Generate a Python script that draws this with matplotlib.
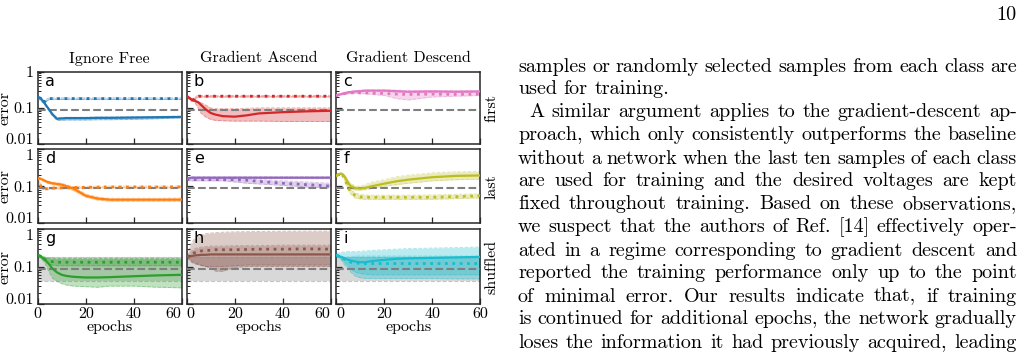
"""Error vs. epochs grid (3x3) next to the justified body text of the page."""

import matplotlib
matplotlib.use("Agg")
import matplotlib.pyplot as plt
from matplotlib.font_manager import FontProperties

W, H = 1028, 359

# --- Data ------------------------------------------------------------------
epochs = [0, 1, 2, 3, 4, 5, 6, 8, 10, 12, 15, 20, 25, 30, 40, 50, 60]

# a: Ignore Free / first
a_solid = [.20, .19, .16, .13, .105, .085, .068, .050, .051, .052, .052, .052, .053, .053, .054, .055, .056]
a_solid_lo = [.19, .18, .15, .12, .095, .076, .061, .045, .045, .046, .046, .046, .047, .047, .048, .050, .053]
a_solid_hi = [.21, .20, .17, .14, .110, .090, .072, .053, .054, .055, .055, .055, .056, .056, .057, .058, .059]
a_dot = [.20, .17, .15, .15, .17, .18, .18, .18, .18, .18, .18, .18, .18, .18, .18, .18, .18]
a_dot_lo = [.19, .16, .14, .14, .16, .17, .17, .17, .17, .17, .17, .17, .17, .17, .17, .17, .17]
a_dot_hi = [.21, .18, .16, .16, .18, .19, .19, .19, .19, .19, .19, .19, .19, .19, .19, .19, .19]

# b: Gradient Ascend / first
b_solid = [.21, .19, .17, .16, .15, .14, .12, .09, .072, .065, .059, .057, .062, .070, .076, .080, .083]
b_solid_lo = [.20, .18, .16, .15, .12, .09, .07, .055, .048, .045, .044, .043, .043, .043, .042, .042, .042]
b_solid_hi = [.22, .20, .18, .17, .16, .15, .14, .12, .10, .095, .095, .095, .097, .10, .10, .10, .10]
b_dot = [.21, .18, .16, .17, .20, .21, .21, .21, .21, .21, .21, .21, .21, .21, .21, .21, .21]
b_dot_lo = [.20, .17, .15, .16, .19, .20, .20, .20, .20, .20, .20, .20, .20, .20, .20, .20, .20]
b_dot_hi = [.22, .19, .17, .18, .21, .22, .22, .22, .22, .22, .22, .22, .22, .22, .22, .22, .22]

# c: Gradient Descend / first
c_solid = [.22, .23, .24, .25, .26, .27, .275, .285, .29, .30, .30, .30, .29, .28, .285, .28, .285]
c_solid_lo = [.21, .22, .23, .24, .25, .26, .265, .275, .28, .285, .285, .285, .275, .27, .27, .27, .27]
c_solid_hi = [.23, .24, .25, .26, .27, .28, .285, .30, .305, .315, .315, .315, .31, .30, .30, .30, .30]
c_dot = [.22, .23, .24, .245, .25, .255, .26, .26, .26, .26, .255, .25, .24, .235, .24, .235, .24]
c_dot_lo = [.21, .22, .23, .235, .24, .245, .25, .25, .25, .245, .235, .22, .18, .165, .20, .21, .22]
c_dot_hi = [.23, .24, .25, .255, .26, .265, .27, .275, .28, .28, .28, .28, .28, .27, .27, .27, .27]

# d: Ignore Free / last
d_solid = [.17, .16, .15, .14, .13, .125, .12, .115, .11, .10, .085, .055, .046, .043, .043, .043, .043]
d_solid_lo = [.16, .15, .14, .13, .12, .115, .11, .105, .10, .09, .075, .050, .042, .039, .039, .039, .039]
d_solid_hi = [.18, .17, .16, .15, .14, .135, .13, .125, .12, .11, .095, .062, .051, .047, .047, .047, .048]
d_dot = [.17, .11, .085, .085, .085, .087, .088, .09, .09, .09, .092, .093, .094, .095, .095, .095, .096]
d_dot_lo = [.16, .10, .08, .08, .08, .082, .083, .085, .085, .085, .087, .088, .089, .09, .09, .09, .09]
d_dot_hi = [.18, .12, .09, .09, .09, .092, .093, .095, .095, .095, .097, .099, .10, .10, .10, .10, .10]

# e: Gradient Ascend / last
e_solid = [.16, .165, .17, .17, .17, .17, .17, .17, .17, .17, .17, .17, .17, .17, .17, .17, .17]
e_solid_lo = [.15, .155, .16, .16, .16, .16, .16, .16, .16, .16, .16, .16, .16, .16, .16, .16, .16]
e_solid_hi = [.17, .175, .18, .18, .18, .18, .18, .18, .18, .18, .18, .18, .18, .18, .18, .18, .18]
e_dot = [.16, .15, .15, .15, .15, .15, .15, .15, .15, .15, .15, .15, .145, .135, .12, .11, .10]
e_dot_lo = [.15, .14, .14, .14, .14, .14, .14, .14, .14, .14, .14, .13, .12, .115, .105, .095, .09]
e_dot_hi = [.17, .16, .16, .16, .16, .16, .16, .16, .16, .16, .16, .16, .155, .15, .14, .13, .12]

# f: Gradient Descend / last
f_solid = [.19, .21, .22, .20, .16, .12, .10, .088, .086, .09, .10, .117, .135, .15, .175, .19, .195]
f_solid_lo = [.18, .20, .21, .19, .14, .10, .085, .078, .078, .08, .088, .10, .11, .12, .14, .15, .155]
f_solid_hi = [.20, .22, .23, .215, .18, .14, .12, .10, .10, .11, .13, .15, .18, .20, .23, .245, .25]
f_dot = [.19, .21, .22, .18, .13, .09, .07, .055, .051, .05, .05, .05, .05, .05, .05, .052, .055]
f_dot_lo = [.18, .20, .21, .17, .115, .08, .06, .047, .045, .044, .044, .044, .044, .044, .044, .046, .048]
f_dot_hi = [.20, .22, .23, .19, .145, .10, .08, .065, .06, .058, .057, .057, .057, .057, .058, .06, .062]

# g: Ignore Free / shuffled
g_solid = [.20, .19, .17, .15, .13, .11, .09, .07, .06, .056, .053, .051, .051, .052, .055, .058, .060]
g_solid_lo = [.19, .17, .15, .12, .09, .065, .05, .04, .035, .032, .03, .029, .028, .03, .03, .028, .027]
g_solid_hi = [.21, .20, .19, .18, .175, .17, .17, .165, .165, .165, .165, .165, .165, .165, .165, .165, .165]
g_dot = [.20, .19, .17, .155, .145, .14, .135, .13, .13, .13, .13, .13, .13, .13, .13, .13, .13]
g_dot_lo = [.19, .18, .16, .14, .125, .115, .11, .105, .105, .105, .105, .105, .105, .105, .105, .105, .105]
g_dot_hi = [.21, .20, .185, .17, .165, .16, .16, .16, .16, .16, .16, .16, .16, .16, .16, .16, .16]

# h: Gradient Ascend / shuffled
h_solid = [.18, .185, .19, .195, .20, .20, .205, .205, .21, .21, .21, .21, .21, .21, .21, .21, .21]
h_solid_lo = [.17, .16, .14, .13, .12, .115, .11, .10, .09, .075, .075, .095, .10, .10, .10, .10, .10]
h_solid_hi = [.19, .22, .26, .29, .31, .32, .33, .34, .35, .35, .35, .36, .36, .36, .37, .37, .37]
h_dot = [.18, .19, .21, .23, .24, .25, .26, .27, .27, .28, .28, .28, .285, .29, .29, .295, .29]
h_dot_lo = [.17, .15, .13, .12, .115, .11, .105, .10, .10, .10, .10, .105, .11, .11, .11, .11, .11]
h_dot_hi = [.19, .30, .42, .52, .60, .65, .70, .75, .78, .80, .82, .84, .85, .86, .87, .88, .88]

# i: Gradient Descend / shuffled
i_solid = [.20, .19, .18, .17, .16, .15, .145, .135, .13, .13, .14, .15, .16, .165, .17, .175, .18]
i_solid_lo = [.19, .17, .15, .12, .10, .085, .07, .055, .05, .048, .048, .048, .048, .048, .048, .047, .047]
i_solid_hi = [.22, .23, .24, .24, .25, .25, .25, .25, .255, .26, .27, .28, .29, .30, .31, .32, .33]
i_dot = [.20, .19, .175, .16, .15, .14, .13, .125, .12, .12, .12, .12, .12, .12, .12, .12, .12]
i_dot_lo = [.19, .18, .16, .14, .12, .10, .085, .07, .065, .062, .06, .06, .06, .06, .06, .06, .06]
i_dot_hi = [.21, .20, .19, .18, .18, .18, .18, .19, .19, .19, .19, .19, .19, .19, .19, .19, .19]

baseline = 0.087                      # error without a network
shuffled_lo, shuffled_hi = 0.042, 0.18  # spread of that baseline for shuffled samples

col_titles = ["Ignore Free", "Gradient Ascend", "Gradient Descend"]
row_titles = ["first", "last", "shuffled"]
letters = ["a", "b", "c", "d", "e", "f", "g", "h", "i"]
colors = ["#1f77b4", "#d62728", "#e377c2",
          "#ff7f0e", "#9467bd", "#bcbd22",
          "#2ca02c", "#8c564b", "#17becf"]

panels = [
    (a_solid, a_solid_lo, a_solid_hi, a_dot, a_dot_lo, a_dot_hi),
    (b_solid, b_solid_lo, b_solid_hi, b_dot, b_dot_lo, b_dot_hi),
    (c_solid, c_solid_lo, c_solid_hi, c_dot, c_dot_lo, c_dot_hi),
    (d_solid, d_solid_lo, d_solid_hi, d_dot, d_dot_lo, d_dot_hi),
    (e_solid, e_solid_lo, e_solid_hi, e_dot, e_dot_lo, e_dot_hi),
    (f_solid, f_solid_lo, f_solid_hi, f_dot, f_dot_lo, f_dot_hi),
    (g_solid, g_solid_lo, g_solid_hi, g_dot, g_dot_lo, g_dot_hi),
    (h_solid, h_solid_lo, h_solid_hi, h_dot, h_dot_lo, h_dot_hi),
    (i_solid, i_solid_lo, i_solid_hi, i_dot, i_dot_lo, i_dot_hi),
]

body_lines = [
    "samples or randomly selected samples from each class are",
    "used for training.",
    "A similar argument applies to the gradient-descent ap-",
    "proach, which only consistently outperforms the baseline",
    "without a network when the last ten samples of each class",
    "are used for training and the desired voltages are kept",
    "fixed throughout training. Based on these observations,",
    "we suspect that the authors of Ref. [14] effectively oper-",
    "ated in a regime corresponding to gradient descent and",
    "reported the training performance only up to the point",
    "of minimal error. Our results indicate that, if training",
    "is continued for additional epochs, the network gradually",
    "loses the information it had previously acquired, leading",
]
para_end = {1}     # lines that end a paragraph (not justified)
para_start = {2}   # lines that begin with an indent
page_number = "10"

# --- Layout (pixels) -------------------------------------------------------
SERIF = "cmr10"
col_left = [37.7, 186.7, 336.3]
col_w = 144.0
row_top = [71.7, 149.3, 229.0]
row_bot = [144.0, 223.0, 304.0]
# horizontal alignment of the 0 / 60 labels so neighbouring panels don't clash
xlabel_ha = [["center", "center", "center", "right"],
             ["left", "center", "center", "right"],
             ["left", "center", "center", "center"]]

fig = plt.figure(figsize=(W / 100, H / 100), dpi=100)

for k, (series, color) in enumerate(zip(panels, colors)):
    r, c = divmod(k, 3)
    left, top, bot = col_left[c], row_top[r], row_bot[r]
    ax = fig.add_axes([left / W, 1 - bot / H, col_w / W, (bot - top) / H])
    solid, s_lo, s_hi, dot, d_lo, d_hi = series

    if r == 2:
        ax.axhspan(shuffled_lo, shuffled_hi, color="#d4d4d4", alpha=0.9, lw=0, zorder=0)
        for yy in (shuffled_lo, shuffled_hi):
            ax.axhline(yy, color="#c4c4c4", ls="--", lw=0.8, zorder=0.5)

    ax.fill_between(epochs, s_lo, s_hi, color=color, alpha=0.3, lw=0, zorder=1)
    ax.fill_between(epochs, d_lo, d_hi, color=color, alpha=0.3, lw=0, zorder=1)
    for edge in (s_lo, s_hi, d_lo, d_hi):
        ax.plot(epochs, edge, color=color, lw=0.7, ls="--", alpha=0.35, zorder=1.5)

    ax.axhline(baseline, color="#7f7f7f", ls="--", lw=1.5, zorder=3)
    ax.plot(epochs, dot, color=color, ls=":", lw=2.0, zorder=4)
    ax.plot(epochs, solid, color=color, lw=1.6, zorder=5)

    ax.set_yscale("log")
    ax.set_ylim(0.01, 1)
    ax.set_xlim(0, 60)
    ax.set_xticks([0, 20, 40, 60])
    ax.set_yticks([0.01, 0.1, 1])
    ax.tick_params(which="both", direction="in", top=False, right=False,
                   colors="#262626", labelcolor="black", pad=3)
    ax.tick_params(axis="x", pad=2.5)
    ax.tick_params(which="major", length=4, width=0.9)
    ax.tick_params(which="minor", length=2.2, width=0.7)
    for sp in ax.spines.values():
        sp.set_color("#262626")
        sp.set_linewidth(1.1)

    if c == 0:
        labs = ax.set_yticklabels(["0.01", "0.1", "1"], fontfamily=SERIF, fontsize=11.5)
        labs[0].set_va("baseline")
        if r > 0:
            labs[2].set_va("top")
    else:
        ax.set_yticklabels([])
    ax.yaxis.set_minor_formatter(plt.NullFormatter())
    if r == 2:
        labs = ax.set_xticklabels(["0", "20", "40", "60"], fontfamily=SERIF, fontsize=11.5)
        for lab, ha in zip(labs, xlabel_ha[c]):
            lab.set_ha(ha)
    else:
        ax.set_xticklabels([])

    ax.text(0.05, 0.975, letters[k], transform=ax.transAxes, ha="left", va="top",
            fontfamily="DejaVu Sans", fontsize=11.5, zorder=6)

for c, title in enumerate(col_titles):
    cx = col_left[c] + col_w / 2
    fig.text(cx / W, 1 - 62.5 / H, title, ha="center", va="baseline",
             fontfamily=SERIF, fontsize=11.5)
    fig.text(cx / W, 1 - 330.5 / H, "epochs", ha="center", va="baseline",
             fontfamily=SERIF, fontsize=11.5)

for r, name in enumerate(row_titles):
    cy = (row_top[r] + row_bot[r]) / 2
    fig.text(12 / W, 1 - cy / H, "error", rotation=90, ha="right", va="center",
             fontfamily=SERIF, fontsize=11.5)
    fig.text(492 / W, 1 - cy / H, name, rotation=90, ha="center", va="center",
             fontfamily=SERIF, fontsize=11.5)

# --- Body text, justified by hand -------------------------------------------
TEXT_L, TEXT_R = 518.0, 1017.0
INDENT = 11.0
BASE0, LEAD = 71.5, 23.0
body = FontProperties(family=SERIF, size=14.5)

renderer = fig.canvas.get_renderer()


def text_w(s):
    return renderer.get_text_width_height_descent(s, body, ismath=False)[0]


space_w = text_w("n n") - text_w("nn")

for i, line in enumerate(body_lines):
    words = line.split()
    x = TEXT_L + (INDENT if i in para_start else 0.0)
    widths = [text_w(w) for w in words]
    if i in para_end or len(words) < 2:
        gap = space_w
    else:
        gap = (TEXT_R - x - sum(widths)) / (len(words) - 1)
    y = BASE0 + LEAD * i
    for w, ww in zip(words, widths):
        fig.text(x / W, 1 - y / H, w, fontproperties=body, ha="left", va="baseline")
        x += ww + gap

fig.text(1016 / W, 1 - 20 / H, page_number, fontproperties=body, ha="right", va="baseline")

fig.savefig("out.png", dpi=100)
